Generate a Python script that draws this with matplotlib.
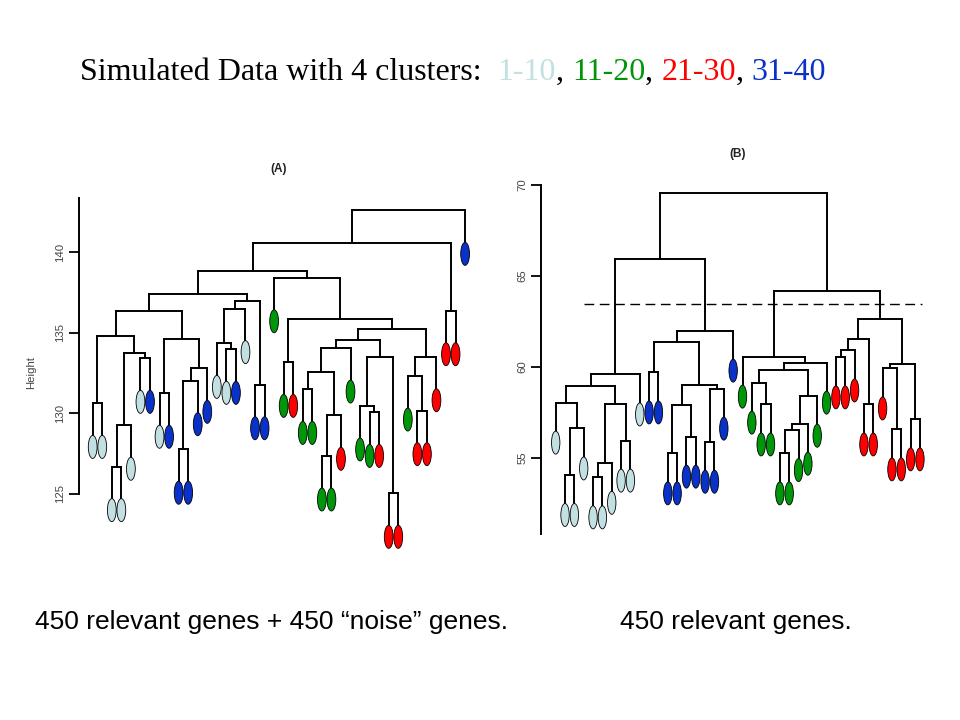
import matplotlib
matplotlib.use('Agg')
import matplotlib.pyplot as plt
from matplotlib.patches import Ellipse

LB, GR, RD, BL = '#c2e0e2', '#00960a', '#ff0000', '#0a32c8'

# panel A: leaf colours in plot order, merges in R hclust style (negative = leaf)
leaf_cols_a = [LB, LB, LB, LB, LB, LB, BL, LB, BL, BL, BL, BL, BL, LB, LB, BL, LB, BL, BL, GR,
               GR, RD, GR, GR, GR, GR, RD, GR, GR, GR, RD, RD, RD, GR, RD, RD, RD, RD, RD, BL]
merges_a = [(-1, -2, 130.61), (-3, -4, 126.68), (2, -5, 129.25), (-6, -7, 133.41),
            (3, 4, 133.72), (1, 5, 134.82), (-8, -9, 131.24), (-10, -11, 127.76),
            (8, -12, 132.02), (9, -13, 132.79), (7, 10, 134.61), (6, 11, 136.35),
            (-15, -16, 133.97), (-14, 13, 134.34), (14, -17, 136.5), (-18, -19, 131.77),
            (15, 16, 136.97), (12, 17, 137.41), (-21, -22, 133.16), (-23, -24, 131.48),
            (-25, -26, 127.34), (21, -27, 129.87), (20, 22, 132.58), (23, -28, 134.05),
            (-30, -31, 130.05), (-29, 25, 130.45), (-32, -33, 125.02), (26, 27, 133.51),
            (24, 28, 134.53), (-35, -36, 130.16), (-34, 30, 132.31), (31, -37, 133.51),
            (29, 32, 135.23), (19, 33, 135.83), (-20, 34, 138.42), (18, 35, 138.86),
            (-38, -39, 136.37), (36, 37, 140.6), (38, -40, 142.61)]
hang_a = 2.7
ticks_a = [125, 130, 135, 140]

# panel B
leaf_cols_b = [LB] * 10 + [BL] * 10 + [GR] * 10 + [RD] * 10
merges_b = [(-2, -3, 54.05), (1, -4, 56.61), (-1, 2, 58.03), (-5, -6, 53.92),
            (4, -7, 54.72), (-8, -9, 55.94), (5, 6, 57.97), (3, 7, 58.96),
            (8, -10, 59.58), (-11, -12, 59.69), (-13, -14, 55.24), (-15, -16, 56.16),
            (11, 12, 57.92), (-17, -18, 55.88), (14, -19, 58.8), (13, 15, 59.0),
            (10, 16, 61.36), (17, -20, 61.99), (9, 18, 65.93), (-23, -24, 57.93),
            (-22, 20, 59.13), (-25, -26, 55.24), (22, -27, 56.52), (23, -28, 56.87),
            (24, -29, 58.41), (21, 25, 59.8), (26, -30, 60.23), (-21, 27, 60.56),
            (-31, -32, 60.52), (29, -33, 60.9), (-34, -35, 57.93), (30, 31, 61.51),
            (-37, -38, 56.56), (-36, 33, 59.91), (-39, -40, 57.11), (34, 35, 60.17),
            (32, 36, 62.63), (28, 37, 64.19), (19, 38, 69.54)]
hang_b = 2.2
ticks_b = [55, 60, 65, 70]
cut_b = 63.43
cut_span_b = (4.0, 40.2)

title_parts = [('Simulated Data with 4 clusters:  ', 'black'), ('1-10', LB), (', ', 'black'),
               ('11-20', GR), (', ', 'black'), ('21-30', RD), (', ', 'black'), ('31-40', BL)]

W, H = 960, 720
SANS = 'Liberation Sans'
fig = plt.figure(figsize=(W / 100, H / 100), dpi=100)


def px_axes(x0, y0, x1, y1):
    return fig.add_axes([x0 / W, 1 - y1 / H, (x1 - x0) / W, (y1 - y0) / H])


def draw_tree(ax, merges, cols, hang, ew, eh):
    xs, hs = {}, {}
    for r, (a, b, h) in enumerate(merges, 1):
        pts = []
        for k in (a, b):
            if k < 0:
                x, y = -k, h - hang
                ax.add_patch(Ellipse((x, y), ew, eh, fc=cols[-k - 1], ec='black',
                                     lw=0.6, zorder=3))
            else:
                x, y = xs[k], hs[k]
            ax.plot([x, x], [y, h], color='black', lw=1.4, solid_capstyle='projecting')
            pts.append(x)
        ax.plot(pts, [h, h], color='black', lw=1.4, solid_capstyle='projecting')
        xs[r] = sum(pts) / 2
        hs[r] = h


def style_axis(ax, lo, hi, ticks):
    for s in ['top', 'right', 'bottom']:
        ax.spines[s].set_visible(False)
    ax.spines['left'].set_bounds(lo, hi)
    ax.spines['left'].set_linewidth(1.4)
    ax.set_xticks([])
    ax.set_yticks(ticks)
    ax.tick_params(axis='y', length=7, width=1.3, labelsize=8.2, pad=3, labelcolor='#444444')
    for lab in ax.get_yticklabels():
        lab.set_rotation(90)
        lab.set_va('center')
        lab.set_family(SANS)
    ax.patch.set_alpha(0)


# (A)
ax1 = px_axes(79.3, 185, 480, 560)
ax1.set_xlim(-0.403, 41.56)
ax1.set_ylim(120.88, 144.19)
draw_tree(ax1, merges_a, leaf_cols_a, hang_a, 8.8 / 9.55, 23 / 16.09)
style_axis(ax1, 125, 143.4, ticks_a)
fig.text(279 / W, 1 - 169 / H, '(A)', fontsize=8.5, fontweight='bold', family=SANS,
         ha='center', va='center', color='#222222')
fig.text(31.5 / W, 1 - 372 / H, 'Height', fontsize=8.2, rotation=90, ha='center', va='center',
         family=SANS, color='#444444')

# (B)
ax2 = px_axes(541, 175, 935, 545)
ax2.set_xlim(-0.574, 41.61)
ax2.set_ylim(50.2, 70.55)
draw_tree(ax2, merges_b, leaf_cols_b, hang_b, 8.4 / 9.34, 23 / 18.18)
ax2.plot(cut_span_b, [cut_b, cut_b], color='black', lw=1.0, linestyle=(0, (7, 4)))
style_axis(ax2, 50.79, 70, ticks_b)
fig.text(738 / W, 1 - 154 / H, '(B)', fontsize=8.5, fontweight='bold', family=SANS,
         ha='center', va='center', color='#222222')

# title in coloured pieces
renderer = fig.canvas.get_renderer()
x = 80 / W
for txt, col in title_parts:
    t = fig.text(x, 1 - 72 / H, txt, fontsize=23, family='Liberation Serif', color=col,
                 ha='left', va='center')
    bb = t.get_window_extent(renderer)
    x += bb.width / W

fig.text(35 / W, 1 - 622 / H, '450 relevant genes + 450 \u201cnoise\u201d genes.', fontsize=19,
         family=SANS, ha='left', va='center')
fig.text(620 / W, 1 - 622 / H, '450 relevant genes.', fontsize=19,
         family=SANS, ha='left', va='center')

plt.savefig('out.png', dpi=100)
